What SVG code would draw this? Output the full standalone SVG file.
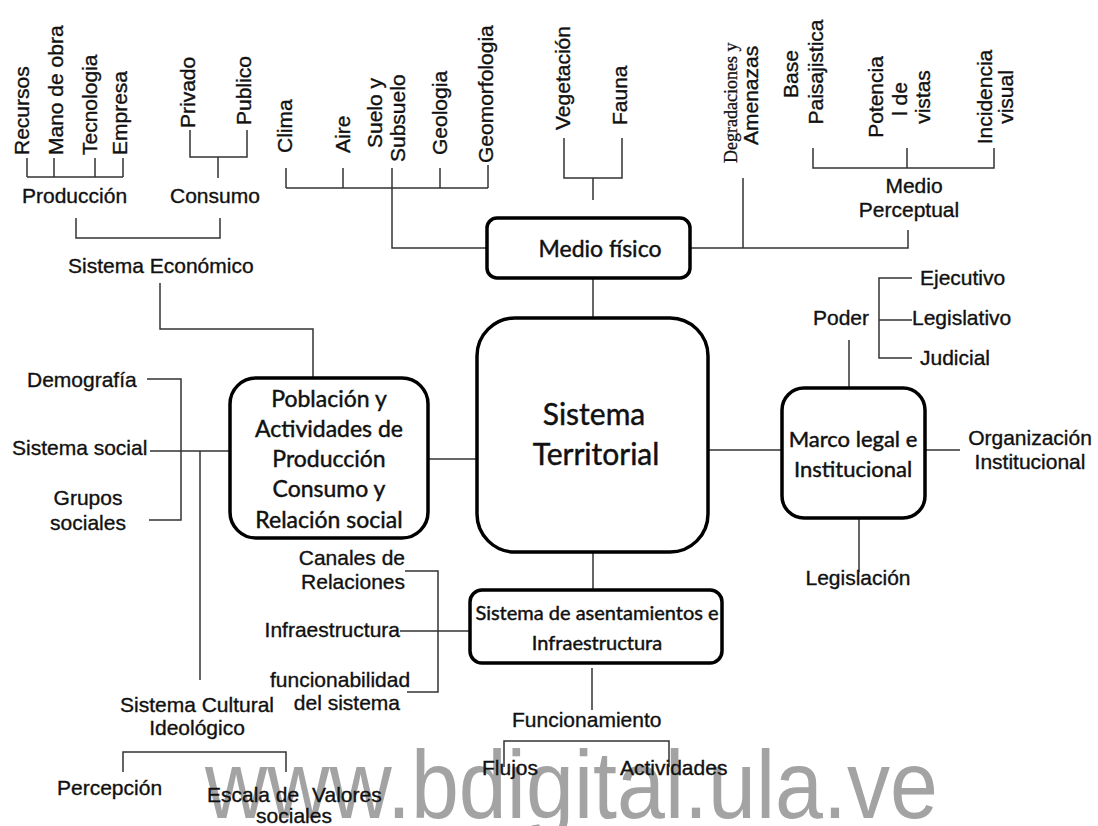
<svg xmlns="http://www.w3.org/2000/svg" width="1098" height="826" viewBox="0 0 1098 826">
<style>
.lbl{font-family:"Liberation Sans",Arial,sans-serif;font-size:21px;fill:#111;stroke:#111;stroke-width:0.35}
.mid{text-anchor:middle}
.end{text-anchor:end}
.ser{font-family:"Liberation Serif","Times New Roman",serif;font-size:18px;fill:#111;stroke:#111;stroke-width:0.3}
.nt{font-family:Lato,"Open Sans",sans-serif;fill:#111;stroke:#111;stroke-width:0.45;text-anchor:middle}
.box{fill:#fff;stroke:#000;stroke-width:3.5}
.ln{fill:none;stroke:#333;stroke-width:1.5}
.wm{font-family:"Liberation Sans",Arial,sans-serif;font-size:96px;fill:#a3a3a3}
</style>
<rect width="1098" height="826" fill="#fff"/>
<text class="wm" x="205" y="818" textLength="733" lengthAdjust="spacingAndGlyphs">www.bdigital.ula.ve</text>

<g id="connectors">
<path class="ln" d="M27,158 V177 M54,158 V177 M95,158 V177 M123,158 V177 M27,177 H123"/>
<path class="ln" d="M190,130 V157 H247 V130 M218,157 V178"/>
<path class="ln" d="M76,218 V238 H220 V218"/>
<path class="ln" d="M160,283 V329 H313 V378"/>
<path class="ln" d="M286,168 V188 M343,168 V188 M392,168 V188 M440,168 V188 M488,165 V188 M286,188 H488 M392,188 V248 H487"/>
<path class="ln" d="M564,138 V178 H622 V138 M593,178 V200"/>
<path class="ln" d="M690,248 H908 V230 M743,178 V248"/>
<path class="ln" d="M813,148 V168 H994 V148 M907,148 V168"/>
<path class="ln" d="M593,278 V318"/>
<path class="ln" d="M708,450 H782"/>
<path class="ln" d="M428,459 H477"/>
<path class="ln" d="M593,552 V590"/>
<path class="ln" d="M849,340 V388 M912,278 H879 V358 H912 M879,320 H912"/>
<path class="ln" d="M925,450 H960"/>
<path class="ln" d="M859,518 V572"/>
<path class="ln" d="M147,379 H181 V520 H149 M150,451 H230 M200,451 V680"/>
<path class="ln" d="M405,571 H438 V692 H407 M400,631 H470"/>
<path class="ln" d="M592,668 V710"/>
<path class="ln" d="M504,767 V741 H669 V767"/>
<path class="ln" d="M123,772 V752 H286 V772"/>
</g>

<g id="medio-fisico">
<rect class="box" x="487" y="218" width="203" height="60" rx="10"/>
<text class="nt" x="600" y="257" font-size="23">Medio físico</text>
</g>
<g id="sistema-territorial">
<rect class="box" x="477" y="318" width="231" height="234" rx="38"/>
<text class="nt" x="594" y="425" font-size="30">Sistema</text>
<text class="nt" x="596" y="465" font-size="30">Territorial</text>
</g>
<g id="poblacion">
<rect class="box" x="230" y="378" width="198" height="160" rx="26"/>
<text class="nt" x="329" y="407" font-size="23">Población y</text>
<text class="nt" x="329" y="437" font-size="23">Actividades de</text>
<text class="nt" x="329" y="467" font-size="23">Producción</text>
<text class="nt" x="329" y="497" font-size="23">Consumo y</text>
<text class="nt" x="329" y="528" font-size="23">Relación  social</text>
</g>
<g id="marco-legal">
<rect class="box" x="782" y="388" width="143" height="130" rx="22"/>
<text class="nt" x="853" y="447" font-size="22">Marco legal e</text>
<text class="nt" x="853" y="477" font-size="22">Institucional</text>
</g>
<g id="asentamientos">
<rect class="box" x="470" y="590" width="252" height="73" rx="12"/>
<text class="nt" x="597" y="620" font-size="20">Sistema de asentamientos e</text>
<text class="nt" x="597" y="650" font-size="20">Infraestructura</text>
</g>

<g id="sistema-economico">
<text class="lbl" transform="translate(29,155) rotate(-90)">Recursos</text>
<text class="lbl" transform="translate(63,155) rotate(-90)">Mano de obra</text>
<text class="lbl" transform="translate(97,155) rotate(-90)">Tecnologia</text>
<text class="lbl" transform="translate(127,155) rotate(-90)">Empresa</text>
<text class="lbl" transform="translate(195,128) rotate(-90)">Privado</text>
<text class="lbl" transform="translate(251,125) rotate(-90)">Publico</text>
<text class="lbl" x="22" y="203">Producción</text>
<text class="lbl" x="170" y="203">Consumo</text>
<text class="lbl" x="68" y="273">Sistema Económico</text>
</g>
<g id="medio-fisico-labels">
<text class="lbl" transform="translate(292,153) rotate(-90)">Clima</text>
<text class="lbl" transform="translate(350,153) rotate(-90)">Aire</text>
<text class="lbl" transform="translate(382,148) rotate(-90)">Suelo y</text>
<text class="lbl" transform="translate(405,162) rotate(-90)">Subsuelo</text>
<text class="lbl" transform="translate(447,155) rotate(-90)">Geologia</text>
<text class="lbl" transform="translate(493,163) rotate(-90)">Geomorfologia</text>
<text class="lbl" transform="translate(570,130) rotate(-90)">Vegetación</text>
<text class="lbl" transform="translate(627,125) rotate(-90)">Fauna</text>
<text class="ser" transform="translate(737,163) rotate(-90)">Degradaciones  y</text>
<text class="lbl" transform="translate(758,145) rotate(-90)">Amenazas</text>
</g>
<g id="medio-perceptual">
<text class="lbl mid" transform="translate(798,74) rotate(-90)">Base</text>
<text class="lbl mid" transform="translate(823,72) rotate(-90)">Paisajistica</text>
<text class="lbl mid" transform="translate(883,97) rotate(-90)">Potencia</text>
<text class="lbl mid" transform="translate(907,99) rotate(-90)">l de</text>
<text class="lbl mid" transform="translate(930,97) rotate(-90)">vistas</text>
<text class="lbl mid" transform="translate(992,97) rotate(-90)">Incidencia</text>
<text class="lbl mid" transform="translate(1013,97) rotate(-90)">visual</text>
<text class="lbl mid" x="914" y="193">Medio</text>
<text class="lbl mid" x="909" y="217">Perceptual</text>
</g>
<g id="marco-labels">
<text class="lbl" x="920" y="285">Ejecutivo</text>
<text class="lbl" x="912" y="325">Legislativo</text>
<text class="lbl" x="920" y="365">Judicial</text>
<text class="lbl" x="813" y="325">Poder</text>
<text class="lbl mid" x="1030" y="445">Organización</text>
<text class="lbl mid" x="1030" y="469">Institucional</text>
<text class="lbl mid" x="858" y="585">Legislación</text>
</g>
<g id="sistema-social">
<text class="lbl" x="27" y="387">Demografía</text>
<text class="lbl" x="12" y="455">Sistema social</text>
<text class="lbl mid" x="88" y="505">Grupos</text>
<text class="lbl mid" x="88" y="530">sociales</text>
</g>
<g id="sistema-cultural">
<text class="lbl mid" x="197" y="712">Sistema Cultural</text>
<text class="lbl mid" x="197" y="735">Ideológico</text>
<text class="lbl" x="57" y="795">Percepción</text>
<text class="lbl" x="207" y="802">Escala de</text>
<text class="lbl" x="312" y="802">Valores</text>
<text class="lbl mid" x="294" y="823">sociales</text>
</g>
<g id="asentamientos-labels">
<text class="lbl end" x="405" y="565">Canales de</text>
<text class="lbl end" x="405" y="589">Relaciones</text>
<text class="lbl end" x="400" y="637">Infraestructura</text>
<text class="lbl" x="270" y="687">funcionabilidad</text>
<text class="lbl end" x="400" y="710">del sistema</text>
<text class="lbl" x="512" y="727">Funcionamiento</text>
<text class="lbl" x="482" y="775">Flujos</text>
<text class="lbl" x="620" y="775">Actividades</text>
</g>
</svg>
